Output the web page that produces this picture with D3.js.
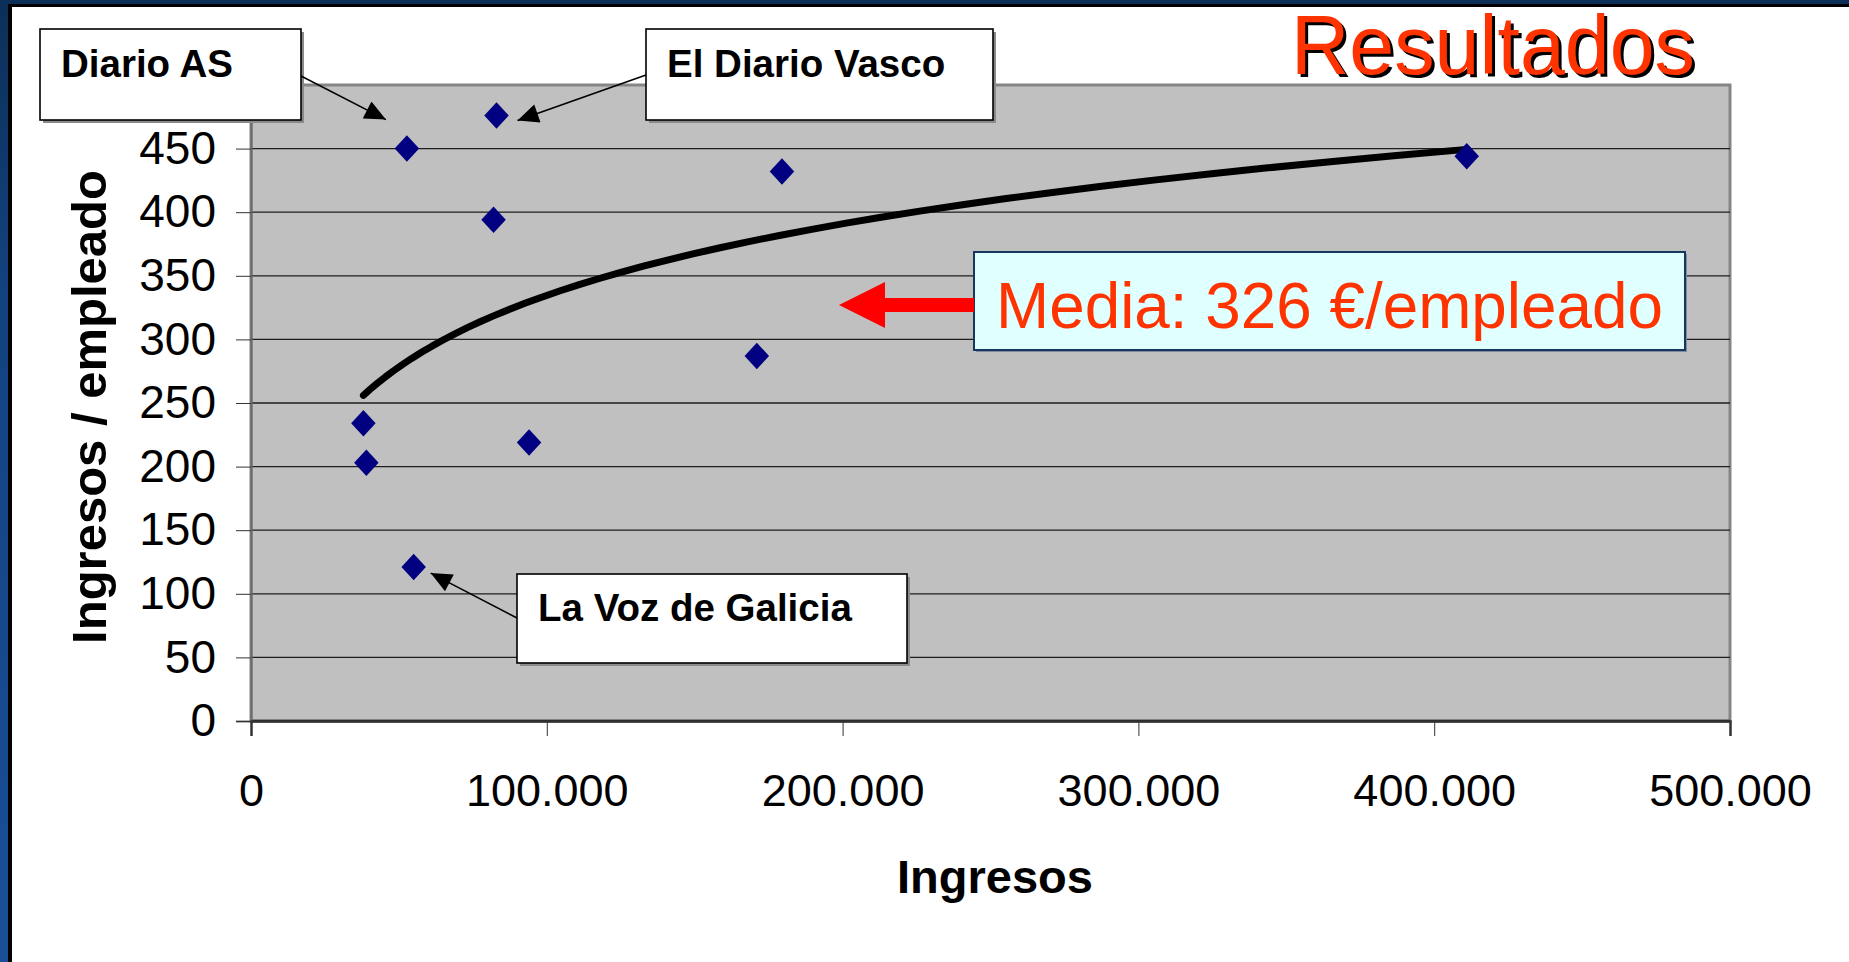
<!DOCTYPE html>
<html>
<head>
<meta charset="utf-8">
<script src="https://cdn.jsdelivr.net/npm/d3@7"></script>
<style>
  body { margin: 0; background: #fff; }
  svg text { font-family: Arial, "Liberation Sans", sans-serif; }
</style>
</head>
<body>
<div id="chart"></div>
<script>
// --- Data ---
const revenue = [38000, 39000, 52700, 55000, 83000, 82000, 94000, 171000, 179500, 411000];
const perEmployee = [234, 203, 450, 121, 476, 394, 219, 287, 432, 444];
const yTicks = [0, 50, 100, 150, 200, 250, 300, 350, 400, 450];
const xTicks = [0, 100000, 200000, 300000, 400000, 500000];
const calloutNames = ["Diario AS", "El Diario Vasco", "La Voz de Galicia"];
const calloutPoint = [2, 4, 3];
const meanLabel = "Media: 326 €/empleado";

// --- Plot sizing ---
const W = 1849, H = 962;
const plot = { left: 251, right: 1730, top: 85, bottom: 721 };

const svg = d3.select("#chart").append("svg")
  .attr("width", W).attr("height", H);

// slide frame
const defs = svg.append("defs");
const grad = defs.append("linearGradient").attr("id", "blueSide")
  .attr("x1", 0).attr("y1", 0).attr("x2", 0).attr("y2", 1);
grad.append("stop").attr("offset", 0).attr("stop-color", "#0b2f57");
grad.append("stop").attr("offset", 0.3).attr("stop-color", "#12427f");
grad.append("stop").attr("offset", 1).attr("stop-color", "#1a4f98");

svg.append("rect").attr("width", W).attr("height", H).attr("fill", "url(#blueSide)");
svg.append("rect").attr("x", 8).attr("y", 4).attr("width", W).attr("height", H).attr("fill", "#000");
svg.append("rect").attr("x", 12).attr("y", 7).attr("width", W).attr("height", H).attr("fill", "#fff");

const x = d3.scaleLinear().domain([0, 500000]).range([plot.left, plot.right]);
const y = d3.scaleLinear().domain([0, 500]).range([plot.bottom, plot.top]);

// plot area
svg.append("rect")
  .attr("x", plot.left).attr("y", plot.top)
  .attr("width", plot.right - plot.left).attr("height", plot.bottom - plot.top)
  .attr("fill", "#c0c0c0").attr("stroke", "#858585").attr("stroke-width", 3);

// gridlines
svg.append("g").selectAll("line").data(yTicks).enter().append("line")
  .attr("x1", plot.left).attr("x2", plot.right)
  .attr("y1", d => y(d)).attr("y2", d => y(d))
  .attr("stroke", "#1e1e1e").attr("stroke-width", d => d === 0 ? 2.5 : 1.3);

// y axis
const yAxis = d3.axisLeft(y).tickValues(yTicks).tickSize(15).tickPadding(20);
const gy = svg.append("g").attr("transform", `translate(${plot.left},0)`).call(yAxis);
gy.select(".domain").attr("stroke", "#6a6a6a").attr("stroke-width", 2);
gy.selectAll(".tick line").attr("stroke", "#333");
gy.selectAll("text").attr("font-size", 46).attr("fill", "#000")
  .style("font-family", "Arial, 'Liberation Sans', sans-serif");

// x axis
const fmt = d => d === 0 ? "0" : d3.format(",")(d).replace(/,/g, ".");
const xAxis = d3.axisBottom(x).tickValues(xTicks).tickSize(15).tickFormat(fmt).tickPadding(38);
const gx = svg.append("g").attr("transform", `translate(0,${plot.bottom})`).call(xAxis);
gx.select(".domain").attr("stroke", "#333").attr("stroke-width", 2.5);
gx.selectAll(".tick line").attr("stroke", "#333");
gx.selectAll("text").attr("font-size", 45).attr("fill", "#000")
  .style("font-family", "Arial, 'Liberation Sans', sans-serif");

// axis titles
svg.append("text").attr("x", 995).attr("y", 893)
  .attr("text-anchor", "middle").attr("font-size", 47).attr("font-weight", "bold")
  .text("Ingresos");
svg.append("text").attr("transform", "translate(106,407) rotate(-90)")
  .attr("text-anchor", "middle").attr("font-size", 49).attr("font-weight", "bold")
  .text("Ingresos / empleado");

// logarithmic trend line (least squares on ln x)
const lx = revenue.map(Math.log);
const mx = d3.mean(lx), my = d3.mean(perEmployee);
const slope = d3.sum(lx, (v, i) => (v - mx) * (perEmployee[i] - my)) / d3.sum(lx, v => (v - mx) ** 2);
const icpt = my - slope * mx;
const xMin = d3.min(revenue), xMax = d3.max(revenue);
const trend = d3.range(0, 41).map(i => {
  const xv = xMin * Math.pow(xMax / xMin, i / 40);
  return [xv, icpt + slope * Math.log(xv)];
});
svg.append("path").datum(trend)
  .attr("d", d3.line().x(d => x(d[0])).y(d => y(d[1])))
  .attr("fill", "none").attr("stroke", "#000").attr("stroke-width", 7)
  .attr("stroke-linecap", "round").attr("stroke-linejoin", "round");

// diamond markers
const diamond = {
  draw(ctx, size) {
    const w = Math.sqrt(size) / 2, h = w * 1.08;
    ctx.moveTo(0, -h); ctx.lineTo(w, 0); ctx.lineTo(0, h); ctx.lineTo(-w, 0); ctx.closePath();
  }
};
svg.append("g").selectAll("path").data(revenue).enter().append("path")
  .attr("transform", (d, i) => `translate(${x(d)},${y(perEmployee[i])})`)
  .attr("d", d3.symbol(diamond, 600))
  .attr("fill", "#000080");

// callouts
defs.append("marker").attr("id", "tip")
  .attr("markerUnits", "userSpaceOnUse").attr("viewBox", "0 0 20 18")
  .attr("markerWidth", 22).attr("markerHeight", 19)
  .attr("refX", 20).attr("refY", 9).attr("orient", "auto")
  .append("path").attr("d", "M0,0L20,9L0,18Z").attr("fill", "#000");

const boxes = [
  { x: 40, y: 29, w: 261, h: 91, tx: 61, ty: 77, fx: 301, fy: 76, dx: -21, dy: -29 },
  { x: 646, y: 29, w: 347, h: 91, tx: 667, ty: 77, fx: 646, fy: 75, dx: 21, dy: 5 },
  { x: 517, y: 574, w: 390, h: 89, tx: 538, ty: 621, fx: 517, fy: 618, dx: 17, dy: 6 }
];
calloutNames.forEach((name, i) => {
  const b = boxes[i];
  const p = calloutPoint[i];
  const g = svg.append("g");
  g.append("rect").attr("x", b.x + 3).attr("y", b.y + 3).attr("width", b.w).attr("height", b.h)
    .attr("fill", "#8a8a8a");
  g.append("rect").attr("x", b.x).attr("y", b.y).attr("width", b.w).attr("height", b.h)
    .attr("fill", "#fff").attr("stroke", "#000").attr("stroke-width", 1.6);
  g.append("text").attr("x", b.tx).attr("y", b.ty)
    .attr("font-size", 38.5).attr("font-weight", "bold").text(name);
  g.append("line")
    .attr("x1", b.fx).attr("y1", b.fy)
    .attr("x2", x(revenue[p]) + b.dx).attr("y2", y(perEmployee[p]) + b.dy)
    .attr("stroke", "#000").attr("stroke-width", 1.6)
    .attr("marker-end", "url(#tip)");
});

// mean box + red arrow
svg.append("rect").attr("x", 976).attr("y", 254).attr("width", 711).attr("height", 98)
  .attr("fill", "#7f8aa0");
svg.append("rect").attr("x", 974).attr("y", 252).attr("width", 711).attr("height", 98)
  .attr("fill", "#e0ffff").attr("stroke", "#17375e").attr("stroke-width", 2);
svg.append("text").attr("x", 996).attr("y", 328)
  .attr("font-size", 64).attr("fill", "#ff3300")
  .attr("textLength", 667).attr("lengthAdjust", "spacingAndGlyphs")
  .text(meanLabel);
svg.append("path")
  .attr("d", "M839,305 L885,282 L885,298 L974,298 L974,312 L885,312 L885,328 Z")
  .attr("fill", "#ff0000");

// title
const title = "Resultados";
svg.append("text").attr("x", 1294).attr("y", 77)
  .attr("font-size", 84).attr("fill", "#000")
  .attr("textLength", 404).attr("lengthAdjust", "spacingAndGlyphs").text(title);
svg.append("text").attr("x", 1291).attr("y", 74)
  .attr("font-size", 84).attr("fill", "#ff3300")
  .attr("textLength", 404).attr("lengthAdjust", "spacingAndGlyphs").text(title);
</script>
</body>
</html>
